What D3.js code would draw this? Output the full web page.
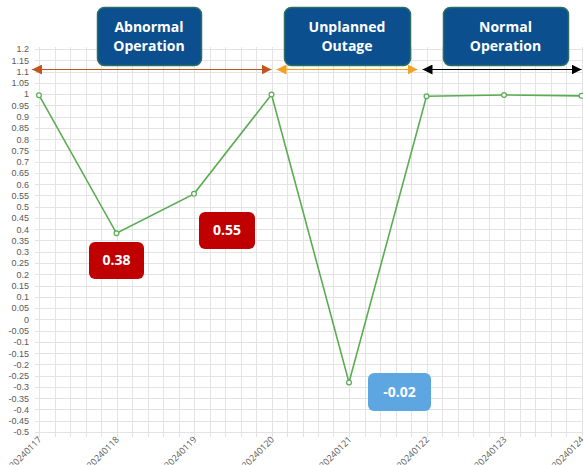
<!DOCTYPE html>
<html>
<head>
<meta charset="utf-8">
<script src="https://cdn.jsdelivr.net/npm/d3@7"></script>
<style>
  html, body { margin: 0; padding: 0; background: #fff; }
  svg { display: block; font-family: "Open Sans", "Segoe UI", sans-serif; }
  .axis text { fill: #595959; font-size: 9px; }
  .axis path, .axis line { stroke: none; }
  .box-text { fill: #fff; font-weight: 700; font-size: 14px; }
</style>
</head>
<body>
<div id="chart"></div>
<script>
// data
const dates = ["20240117", "20240118", "20240119", "20240120", "20240121", "20240122", "20240123", "20240124"];
const values = [0.995, 0.382, 0.557, 0.998, -0.28, 0.99, 0.996, 0.992];
const phases = ["Abnormal\nOperation", "Unplanned\nOutage", "Normal\nOperation"];
const phaseSpans = [[0, 3], [3, 5], [5, 7]];
const callouts = ["0.38", "0.55", "-0.02"];

const W = 583, H = 465;
const margin = { top: 49, right: 1.5, bottom: 33, left: 39 };

const svg = d3.select("#chart").append("svg")
    .attr("width", W)
    .attr("height", H);

const x = d3.scaleLinear().domain([0, dates.length - 1]).range([margin.left, W - margin.right]);
const y = d3.scaleLinear().domain([-0.5, 1.2]).range([H - margin.bottom, margin.top]);

const yTicks = d3.range(-10, 25).map(i => i * 0.05);
const xMinor = d3.range(0, 36).map(i => i / 5);

// grid
const grid = svg.append("g").attr("class", "grid");
grid.selectAll("line.h")
    .data(yTicks)
    .enter().append("line")
    .attr("class", "h")
    .attr("x1", margin.left - 4)
    .attr("x2", W)
    .attr("y1", d => Math.round(y(d)) + 0.5)
    .attr("y2", d => Math.round(y(d)) + 0.5)
    .attr("stroke", "#e3e3e3")
    .attr("stroke-width", 1);
grid.selectAll("line.v")
    .data(xMinor)
    .enter().append("line")
    .attr("class", "v")
    .attr("x1", d => Math.round(x(d)) + 0.5)
    .attr("x2", d => Math.round(x(d)) + 0.5)
    .attr("y1", margin.top - 2)
    .attr("y2", H - margin.bottom + 5)
    .attr("stroke", "#e3e3e3")
    .attr("stroke-width", 1);

// y axis labels
svg.append("g")
    .attr("class", "axis")
    .attr("transform", `translate(${margin.left - 7},0)`)
    .call(d3.axisLeft(y).tickValues(yTicks).tickSize(0)
        .tickFormat(d => { const v = +d.toFixed(2); return v === 0 ? "0" : String(v); }))
    .call(g => g.select(".domain").remove());

// x axis labels, rotated
svg.append("g")
    .attr("class", "axis")
    .selectAll("text")
    .data(dates)
    .enter().append("text")
    .attr("transform", (d, i) => `translate(${x(i) + 1},${H - margin.bottom + 6}) rotate(-45)`)
    .attr("text-anchor", "end")
    .attr("dy", "0.35em")
    .text(d => d);

// line
const line = d3.line()
    .x((d, i) => x(i))
    .y(d => y(d));

svg.append("path")
    .datum(values)
    .attr("d", line)
    .attr("fill", "none")
    .attr("stroke", "#5aac52")
    .attr("stroke-width", 1.6);

svg.selectAll("circle.pt")
    .data(values)
    .enter().append("circle")
    .attr("class", "pt")
    .attr("cx", (d, i) => x(i))
    .attr("cy", d => y(d))
    .attr("r", 2.4)
    .attr("fill", "#fff")
    .attr("stroke", "#5aac52")
    .attr("stroke-width", 1.2);

// phase arrows
const arrowColors = ["#c0561e", "#f5a01e", "#000000"];
const defs = svg.append("defs");
arrowColors.forEach((c, i) => {
    defs.append("marker")
        .attr("id", "arr" + i)
        .attr("viewBox", "0 0 10 10")
        .attr("refX", 10).attr("refY", 5)
        .attr("markerWidth", 10).attr("markerHeight", 10)
        .attr("markerUnits", "userSpaceOnUse")
        .attr("orient", "auto-start-reverse")
        .append("path")
        .attr("d", "M0,0L10,5L0,10Z")
        .attr("fill", c);
});

const arrowY = 69.5;
const arrowPads = [[-7, 0], [5, -9], [-4, 0]];
phaseSpans.forEach((s, i) => {
    svg.append("line")
        .attr("x1", x(s[0]) + arrowPads[i][0])
        .attr("x2", Math.min(x(s[1]) + arrowPads[i][1], W - 1))
        .attr("y1", arrowY).attr("y2", arrowY)
        .attr("stroke", arrowColors[i])
        .attr("stroke-width", 1.2)
        .attr("marker-start", `url(#arr${i})`)
        .attr("marker-end", `url(#arr${i})`);
});

// phase boxes
const boxes = [[97, 104], [284, 126], [443, 125]];
phases.forEach((p, i) => {
    const g = svg.append("g");
    g.append("rect")
        .attr("x", boxes[i][0] + 0.5).attr("y", 7.5)
        .attr("width", boxes[i][1]).attr("height", 58)
        .attr("rx", 7)
        .attr("fill", "#0c4f8e")
        .attr("stroke", "#2c6e60")
        .attr("stroke-width", 1.5);
    p.split("\n").forEach((t, j) => {
        g.append("text")
            .attr("class", "box-text")
            .attr("x", boxes[i][0] + boxes[i][1] / 2)
            .attr("y", 27 + j * 19)
            .attr("text-anchor", "middle")
            .attr("dy", "0.35em")
            .text(t);
    });
});

// value callouts
const calloutBoxes = [[89, 242, 55, 37, "#c00000"], [199, 212, 56, 37, "#c00000"], [368, 373, 63, 38, "#5ea6e2"]];
callouts.forEach((c, i) => {
    const b = calloutBoxes[i];
    svg.append("rect")
        .attr("x", b[0]).attr("y", b[1])
        .attr("width", b[2]).attr("height", b[3])
        .attr("rx", 6)
        .attr("fill", b[4]);
    svg.append("text")
        .attr("class", "box-text")
        .attr("x", b[0] + b[2] / 2)
        .attr("y", b[1] + b[3] / 2)
        .attr("text-anchor", "middle")
        .attr("dy", "0.35em")
        .text(c);
});
</script>
</body>
</html>
